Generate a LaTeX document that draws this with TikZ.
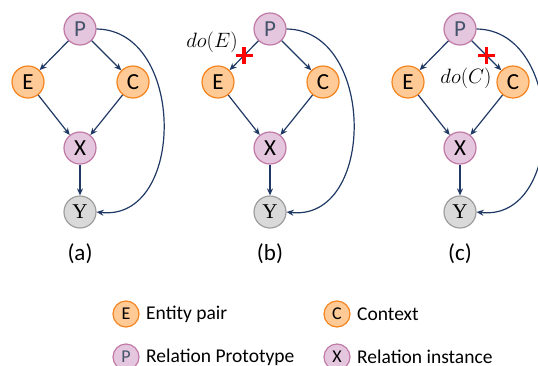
\documentclass[tikz,border=0pt]{standalone}
\usepackage{fontspec}
\setmainfont{Carlito}
\newfontfamily\yfont{Liberation Serif}
\usetikzlibrary{arrows.meta,calc}
\definecolor{orfill}{HTML}{FFCA95}
\definecolor{ordraw}{HTML}{F5841F}
\definecolor{pkfill}{HTML}{E5C6DF}
\definecolor{pkdraw}{HTML}{C17AA6}
\definecolor{gyfill}{HTML}{D9D9D9}
\definecolor{gydraw}{HTML}{9E9E9E}
\definecolor{navy}{HTML}{203864}
\definecolor{ptext}{HTML}{44546A}
\tikzset{
  base/.style={circle, minimum size=32pt, inner sep=0pt, line width=1.2pt, font=\fontsize{23}{24}\selectfont},
  ornode/.style={base, draw=ordraw, fill=orfill},
  pknode/.style={base, draw=pkdraw, fill=pkfill},
  pnode/.style={pknode, text=ptext},
  ynode/.style={base, draw=gydraw, fill=gyfill, font=\fontsize{21}{24}\selectfont\yfont},
  legor/.style={ornode, minimum size=26pt, font=\fontsize{18}{20}\selectfont},
  legpk/.style={pknode, minimum size=26pt, font=\fontsize{18}{20}\selectfont, text=ptext},
  legtext/.style={anchor=west, inner sep=0pt, font=\fontsize{19.5}{22}\selectfont},
  arr/.style={draw=navy, line width=1.2pt, -{Stealth[length=7pt,width=6pt]}},
  capt/.style={font=\fontsize{23}{26}\selectfont},
  cross/.style={draw=red, line width=3.8pt},
  dolabel/.style={font=\fontsize{20}{22}\selectfont, inner sep=0pt}
}
\begin{document}
\begin{tikzpicture}[x=1pt,y=-1pt]
\useasboundingbox (0,0) rectangle (538,365);
\foreach \n/\ox in {a/0, b/190, c/380} {
  \node[pnode]  (P\n) at (80+\ox,29)  {P};
  \node[ornode] (E\n) at (28+\ox,82)  {E};
  \node[ornode] (C\n) at (133+\ox,82) {C};
  \node[pknode] (X\n) at (80+\ox,148) {X};
  \node[ynode]  (Y\n) at (80+\ox,212) {Y};
  \node[capt]   (L\n) at (80+\ox,254) {(\n)};
  \draw[arr] (P\n) -- (E\n);
  \draw[arr] (P\n) -- (C\n);
  \draw[arr] (E\n) -- (X\n);
  \draw[arr] (C\n) -- (X\n);
  \draw[arr] (X\n) -- (Y\n);
  \draw[arr] (P\n.east) .. controls (186+\ox,30) and (186+\ox,222) .. (Y\n.east);
}
% interventions
\coordinate (kb) at ($(Pb)!0.5!(Eb)$);
\coordinate (kc) at ($(Pc)!0.5!(Cc)$);
\draw[cross] ([xshift=-8.5pt]kb) -- ([xshift=8.5pt]kb);
\draw[cross] ([yshift=-8.5pt]kb) -- ([yshift=8.5pt]kb);
\draw[cross] ([xshift=-8.5pt]kc) -- ([xshift=8.5pt]kc);
\draw[cross] ([yshift=-8.5pt]kc) -- ([yshift=8.5pt]kc);
\node[dolabel] (doE) at (212,42) {$do(E)$};
\node[dolabel] (doC) at (466,78) {$do(C)$};
% legend
\node[legor] (lE) at (126,314) {E};
\node[legtext] (tE) at (146,314) {Entity pair};
\node[legor] (lC) at (337,314) {C};
\node[legtext] (tC) at (357,314) {Context};
\node[legpk] (lP) at (126,357) {P};
\node[legtext] (tP) at (146,357) {Relation Prototype};
\node[legpk, text=black] (lX) at (337,357) {X};
\node[legtext] (tX) at (357,357) {Relation instance};
\end{tikzpicture}
\end{document}
